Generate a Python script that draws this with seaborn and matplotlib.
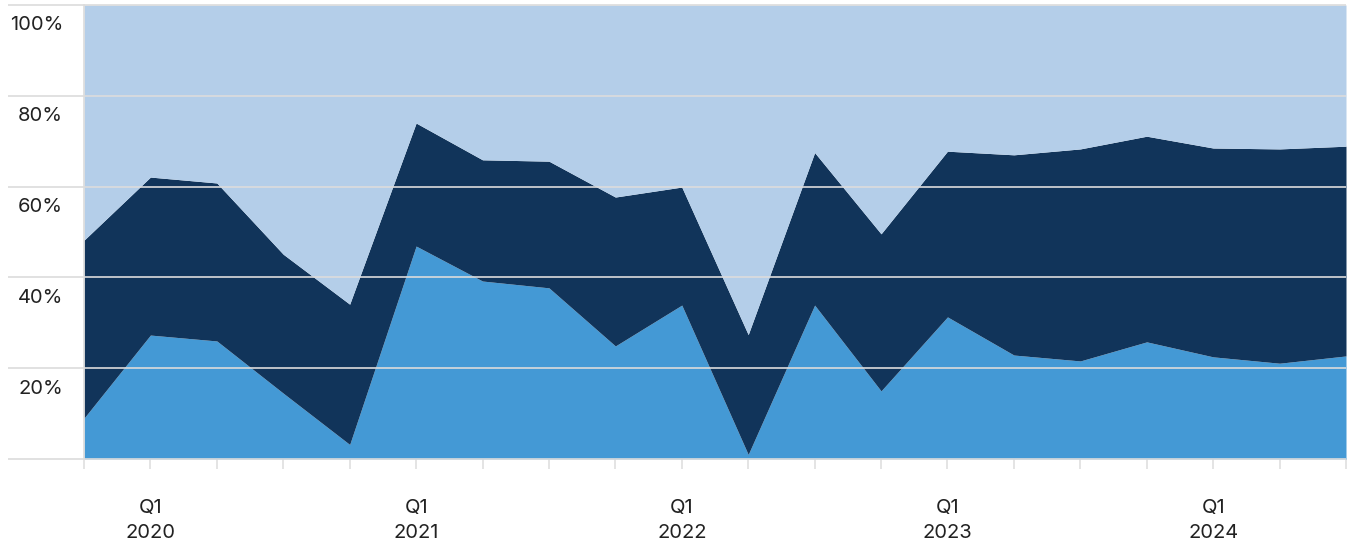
import pandas as pd
import numpy as np
import seaborn as sns
import matplotlib.pyplot as plt

sns.set_theme(style="white")
plt.rcParams["font.family"] = ["Inter", "DejaVu Sans"]

# quarters from Q4 2019 to Q3 2024
quarters = ["Q4 2019", "Q1 2020", "Q2 2020", "Q3 2020", "Q4 2020",
            "Q1 2021", "Q2 2021", "Q3 2021", "Q4 2021",
            "Q1 2022", "Q2 2022", "Q3 2022", "Q4 2022",
            "Q1 2023", "Q2 2023", "Q3 2023", "Q4 2023",
            "Q1 2024", "Q2 2024", "Q3 2024"]

# shares in % (bottom, middle, top)
share_bottom = [9.0, 27.3, 26.0, 14.5, 3.2, 46.9, 39.2, 37.7, 24.9, 33.9,
                1.0, 33.9, 15.0, 31.3, 22.9, 21.6, 25.8, 22.5, 21.1, 22.7]
share_middle = [39.2, 34.8, 34.8, 30.6, 30.9, 27.1, 26.7, 27.9, 32.8, 26.0,
                26.4, 33.6, 34.6, 36.5, 44.1, 46.7, 45.3, 46.0, 47.2, 46.2]
share_top = [51.8, 37.9, 39.2, 54.9, 65.9, 26.0, 34.1, 34.4, 42.3, 40.1,
             72.6, 32.5, 50.4, 32.2, 33.0, 31.7, 28.9, 31.5, 31.7, 31.1]

y_ticks = [20, 40, 60, 80, 100]

df = pd.DataFrame({"quarter": quarters, "bottom": share_bottom,
                   "middle": share_middle, "top": share_top})
df["x"] = np.arange(len(df))

colors = ["#4499d5", "#11345a", "#b4cee9"]

fig = plt.figure(figsize=(13.59, 5.46), dpi=100)
ax = fig.add_axes([84 / 1359, 87 / 546, 1262 / 1359, 454 / 546])

ax.stackplot(df["x"], df["bottom"], df["middle"], df["top"],
             colors=colors, linewidth=0, zorder=1)

ax.set_xlim(0, len(df) - 1)
ax.set_ylim(0, 100)

# grid lines reaching into the label area
grid_col = "#dcdcdc"
ax.hlines([0] + y_ticks, -0.06, 1, transform=ax.get_yaxis_transform(),
          colors=grid_col, lw=1.2, zorder=3, clip_on=False)

# y labels sit just under their grid lines
ax.set_yticks([])
for v in y_ticks:
    ax.text(-0.0165, v - 4.5, f"{v}%", transform=ax.get_yaxis_transform(),
            ha="right", va="center", fontsize=14.5, color="#222222")

# x ticks at every quarter, labels only for Q1
labels = [q.replace(" ", "\n") if q.startswith("Q1") else "" for q in df["quarter"]]
ax.set_xticks(df["x"])
ax.set_xticklabels(labels, fontsize=14.5, color="#222222", linespacing=1.55)
ax.tick_params(axis="x", bottom=True, length=7.5, width=1.1, color=grid_col, pad=21)

for s in ["top", "right", "bottom"]:
    ax.spines[s].set_visible(False)
ax.spines["left"].set_color(grid_col)
ax.spines["left"].set_linewidth(1.2)
ax.spines["left"].set_zorder(3)

fig.savefig("out.png", dpi=100)
